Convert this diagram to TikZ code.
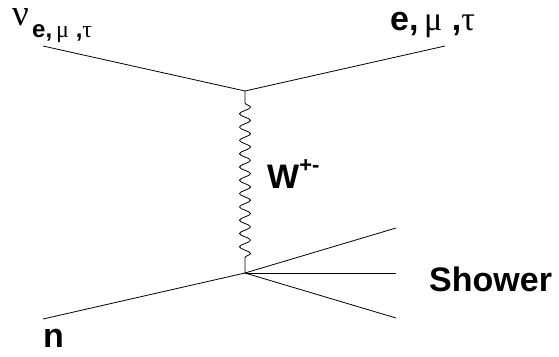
\documentclass[tikz,border=0pt]{standalone}
\usepackage{fontspec}
\setmainfont{Liberation Sans}
\newfontfamily\grk{Liberation Serif}
\usetikzlibrary{decorations.pathmorphing}
\begin{document}
\begin{tikzpicture}[x=1pt,y=-1pt,
  fermion/.style={line width=0.8pt},
  boson/.style={line width=0.8pt,decorate,
    decoration={snake,segment length=13.3pt,amplitude=5.5pt,pre length=12pt,post length=10pt}},
  lbl/.style={inner sep=0pt,anchor=base west,font=\fontsize{34}{40}\selectfont},
  sublbl/.style={inner sep=0pt,anchor=base west,font=\fontsize{24}{28}\selectfont}]
\useasboundingbox (0,0) rectangle (559,356);
% vertices and free ends
\coordinate (vt) at (245,91);
\coordinate (vb) at (245,273);
\coordinate (nuin) at (43,46);
\coordinate (lout) at (445,46);
\coordinate (nin) at (43,319);
\coordinate (sh1) at (396,228);
\coordinate (sh2) at (396,273);
\coordinate (sh3) at (396,318);
% lepton line
\draw[fermion] (nuin) -- (vt) -- (lout);
% W exchange
\draw[boson] (vt) -- (vb);
% nucleon and hadronic shower
\draw[fermion] (nin) -- (vb);
\draw[fermion] (vb) -- (sh1);
\draw[fermion] (vb) -- (sh2);
\draw[fermion] (vb) -- (sh3);
% labels
\node[lbl,font=\fontsize{37}{42}\selectfont,text height=0.48em,text depth=0pt] (nulbl) at (12,25) {\grk ν};
\node[sublbl] (nusub) at (32,37) {\bfseries e,\,{\mdseries\grk μ} ,{\mdseries\grk τ}};
\node[lbl] (lepl) at (390,30) {\bfseries e,\,{\mdseries\grk μ} ,{\mdseries\grk τ}};
\node[lbl] (wlbl) at (267,188) {\bfseries W\raisebox{0.45em}{\fontsize{22}{26}\selectfont +-}};
\node[lbl] (shlbl) at (429,291) {\bfseries Shower};
\node[lbl] (nlbl) at (43,347) {\bfseries n};
\end{tikzpicture}
\end{document}
